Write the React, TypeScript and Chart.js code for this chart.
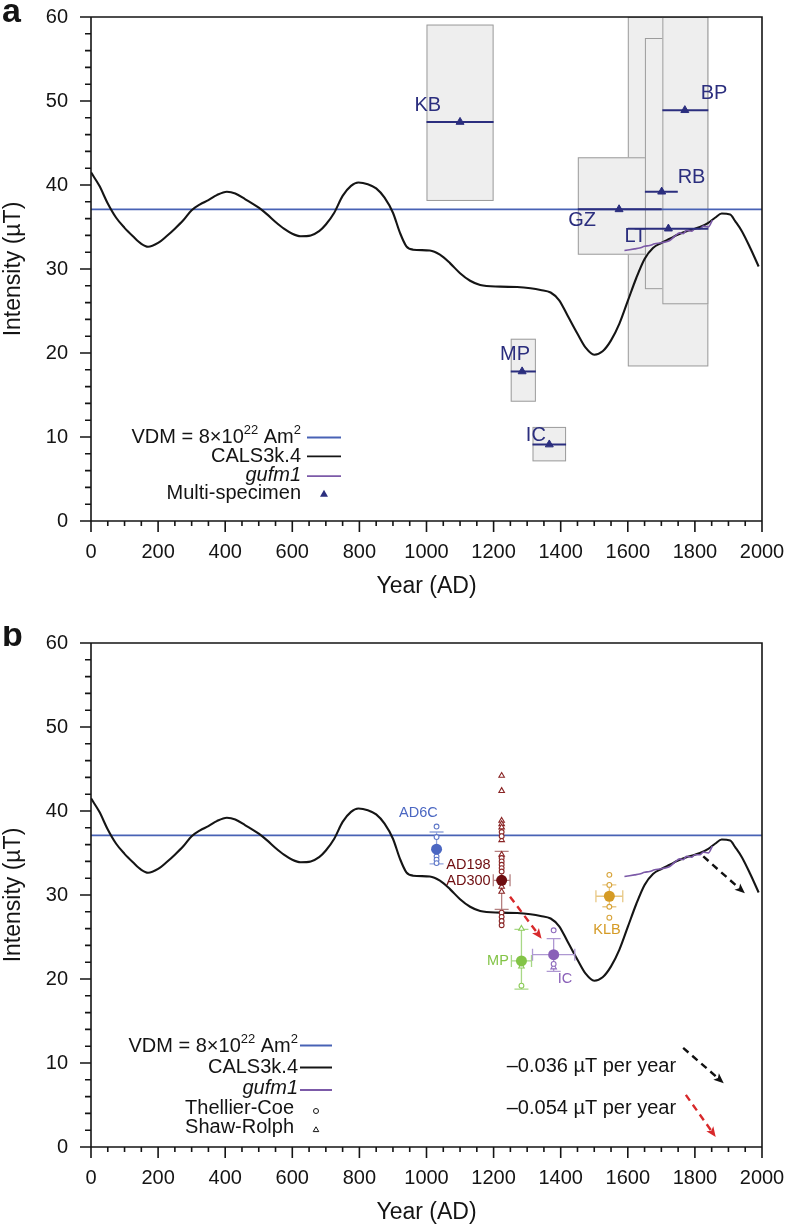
import React, { useEffect, useRef } from "react";
import { Chart, registerables } from "chart.js";

Chart.register(...registerables);

const FONT = "'Liberation Sans', Arial, Helvetica, sans-serif";

// ---------------- axes ----------------
const xTickValues = [0, 200, 400, 600, 800, 1000, 1200, 1400, 1600, 1800, 2000];
const yTickValues = [0, 10, 20, 30, 40, 50, 60];
const xMinorStep = 50;
const yMinorStep = 2;

// ---------------- model curves ----------------
const calsYears = [0, 25, 50, 75, 100, 125, 150, 170, 200, 225, 250, 275, 300, 325, 350, 375, 405, 430, 460, 500, 525, 550, 575, 600, 625, 655, 680, 700, 725, 750, 775, 797, 825, 850, 875, 900, 921, 940, 960, 1010, 1040, 1070, 1100, 1130, 1160, 1220, 1270, 1310, 1340, 1370, 1395, 1420, 1450, 1475, 1500, 1525, 1550, 1575, 1600, 1625, 1650, 1675, 1700, 1725, 1750, 1775, 1800, 1815, 1840, 1860, 1880, 1905, 1920, 1940, 1965, 1990];
const calsValues = [41.5, 39.9, 37.8, 36.1, 34.9, 33.9, 33.0, 32.65, 33.1, 33.9, 34.8, 35.8, 37.0, 37.7, 38.2, 38.8, 39.2, 39.0, 38.3, 37.3, 36.5, 35.6, 34.8, 34.2, 33.9, 34.0, 34.5, 35.3, 36.7, 38.7, 39.9, 40.3, 40.1, 39.6, 38.5, 36.7, 34.3, 32.7, 32.3, 32.2, 31.7, 30.7, 29.5, 28.6, 28.1, 27.9, 27.85, 27.7, 27.5, 27.2, 26.3, 24.5, 22.3, 20.6, 19.8, 20.2, 21.5, 23.5, 26.2, 28.9, 31.2, 32.5, 33.1, 33.6, 34.1, 34.5, 34.8, 35.0, 35.5, 36.1, 36.6, 36.5, 35.7, 34.5, 32.5, 30.3];
const gufmYears = [1590, 1605, 1620, 1635, 1650, 1665, 1680, 1695, 1710, 1725, 1740, 1755, 1765, 1775, 1790, 1800, 1815, 1825, 1840, 1852];
const gufmValues = [32.2, 32.3, 32.4, 32.5, 32.7, 32.8, 33.0, 33.1, 33.2, 33.4, 33.9, 34.3, 34.2, 34.6, 34.5, 34.8, 34.8, 35.1, 35.0, 35.8];
const vdmYears = [0, 2000];
const vdmValues = [37.1, 37.1];

// ---------------- panel a: multi-specimen ----------------
const msNames = ["KB", "BP", "RB", "GZ", "LT", "MP", "IC"];
const msYears = [1100, 1770, 1701, 1574, 1721, 1285, 1366];
const msValues = [47.5, 48.9, 39.2, 37.1, 34.8, 17.8, 9.1];
const msAgeMin = [1000, 1703, 1651, 1451, 1600, 1251, 1316];
const msAgeMax = [1200, 1840, 1749, 1701, 1840, 1326, 1416];
const msIntMin = [38.1, 25.8, 27.6, 31.7, 18.4, 14.2, 7.1];
const msIntMax = [59.1, 60, 57.5, 43.3, 60, 21.7, 11.2];
const msLabelYears = [1004, 1857, 1790, 1464, 1623, 1264, 1326];
const msLabelValues = [49.5, 50.9, 40.85, 35.8, 33.85, 19.8, 10.2];
const msBoxOrder = [0, 5, 6, 4, 3, 2, 1];

// ---------------- panel b: sites ----------------
const siteNames = ["AD6C", "AD198/AD300", "MP", "IC", "KLB"];
const siteYears = [1030, 1224, 1283, 1379, 1545];
const siteMeans = [35.45, 31.75, 22.15, 22.9, 29.85];
const siteAgeErr = [0, 25, 30, 63, 40];
const siteIntLow = [33.7, 28.3, 18.8, 20.9, 28.6];
const siteIntHigh = [37.5, 35.2, 25.9, 24.8, 31.2];
const thellierCoe = [
  [38.15, 36.9, 34.6, 34.2, 33.8],
  [37.5, 37.0, 34.4, 34.0, 33.6, 33.2, 32.8, 27.9, 27.4, 26.9, 26.4],
  [19.2],
  [25.8, 21.8],
  [32.4, 31.2, 28.6, 27.3],
];
const shawRolph = [
  [],
  [44.2, 42.4, 38.85, 38.45, 38.06, 36.55, 34.8, 31.0, 30.4],
  [26.0, 21.5],
  [21.4],
  [],
];
const siteLabelTexts = ["AD6C", "AD198", "AD300", "MP", "IC", "KLB"];
const siteLabelSite = [0, 1, 1, 2, 3, 4];
const siteLabelYears = [976, 1191, 1191, 1213, 1413, 1538];
const siteLabelValues = [39.75, 33.6, 31.65, 22.1, 20.05, 25.8];

// ---------------- panel b: trends ----------------
const trendTexts = ["\u20130.036 \u00b5T per year", "\u20130.054 \u00b5T per year"];
const trendFromYear = [1825, 1249];
const trendFromValue = [34.6, 29.8];
const trendToYear = [1949, 1343];
const trendToValue = [30.2, 24.8];
const trendKeyFromYear = [1765, 1773];
const trendKeyFromValue = [11.8, 6.2];
const trendKeyToYear = [1886, 1862];
const trendKeyToValue = [7.6, 1.2];
const trendTextYear = 1744;
const trendTextValue = [9.64, 4.64];

// ---------------- styles ----------------
const NAVY = "#2b2e7e";
const VDM_BLUE = "#4862b5";
const CALS_BLACK = "#151515";
const GUFM_PURPLE = "#7c5aa8";
const BOX_FILL = "#eeeeee";
const BOX_EDGE = "#9c9c9c";
const TEXT = "#141414";
const siteMeanColors = ["#4b67c2", "#6e0d10", "#83c447", "#8a60b8", "#d59b25"];
const sitePointColors = ["#5f78c8", "#8a2525", "#8ccb58", "#8e6bbd", "#d8a43a"];
const siteBarColors = ["#93a5dc", "#b58080", "#a8d886", "#ae98d2", "#e8c885"];
const siteLabelAlign: CanvasTextAlign[] = ["center", "right", "right", "center", "center", "center"];
const trendColors = ["#111111", "#d8292b"];

const zip = (xs: number[], ys: number[]) => xs.map((x, i) => ({ x, y: ys[i] }));

function font(size: number, extra = "") {
  return `${extra} ${size}px ${FONT}`.trim();
}

function triPath(ctx: CanvasRenderingContext2D, x: number, y: number, r: number) {
  ctx.beginPath();
  ctx.moveTo(x, y - r);
  ctx.lineTo(x + r * 0.866, y + r * 0.5);
  ctx.lineTo(x - r * 0.866, y + r * 0.5);
  ctx.closePath();
}

function drawVdmText(ctx: CanvasRenderingContext2D, right: number, y: number) {
  const parts: [string, number, number][] = [
    ["VDM = 8\u00d710", 20, 0],
    ["22", 13, -7],
    [" Am", 20, 0],
    ["2", 13, -7],
  ];
  let total = 0;
  const widths = parts.map(([t, s]) => {
    ctx.font = font(s);
    const w = ctx.measureText(t).width;
    total += w;
    return w;
  });
  let x = right - total;
  ctx.textAlign = "left";
  ctx.textBaseline = "middle";
  parts.forEach(([t, s, dy], i) => {
    ctx.font = font(s);
    ctx.fillText(t, x, y + dy);
    x += widths[i];
  });
}

function drawArrow(ctx: CanvasRenderingContext2D, x1: number, y1: number, x2: number, y2: number, color: string) {
  const ang = Math.atan2(y2 - y1, x2 - x1);
  const head = 11;
  ctx.save();
  ctx.strokeStyle = color;
  ctx.fillStyle = color;
  ctx.lineWidth = 2.4;
  ctx.setLineDash([7, 5]);
  ctx.beginPath();
  ctx.moveTo(x1, y1);
  ctx.lineTo(x2 - Math.cos(ang) * 6, y2 - Math.sin(ang) * 6);
  ctx.stroke();
  ctx.setLineDash([]);
  ctx.beginPath();
  ctx.moveTo(x2, y2);
  ctx.lineTo(x2 - head * Math.cos(ang - 0.4), y2 - head * Math.sin(ang - 0.4));
  ctx.lineTo(x2 - head * 0.7 * Math.cos(ang), y2 - head * 0.7 * Math.sin(ang));
  ctx.lineTo(x2 - head * Math.cos(ang + 0.4), y2 - head * Math.sin(ang + 0.4));
  ctx.closePath();
  ctx.fill();
  ctx.restore();
}

const framePlugin = {
  id: "frame",
  afterDraw(chart: any) {
    const { ctx } = chart;
    const xs = chart.scales.x;
    const ys = chart.scales.y;
    const l = xs.left, r = xs.right, t = ys.top, b = ys.bottom;
    ctx.save();
    ctx.strokeStyle = TEXT;
    ctx.lineWidth = 1.6;
    ctx.beginPath();
    ctx.moveTo(l - 11, t);
    ctx.lineTo(r, t);
    ctx.lineTo(r, b);
    ctx.moveTo(l - 11, b);
    ctx.lineTo(r, b);
    ctx.moveTo(l, t);
    ctx.lineTo(l, b);
    for (let v = ys.min; v <= ys.max + 1e-9; v += yMinorStep) {
      const y = ys.getPixelForValue(v);
      const len = yTickValues.includes(v) ? 11 : 6;
      ctx.moveTo(l - len, y);
      ctx.lineTo(l, y);
    }
    for (let v = xs.min; v <= xs.max + 1e-9; v += xMinorStep) {
      const x = xs.getPixelForValue(v);
      const len = xTickValues.includes(v) ? 11 : 5;
      ctx.moveTo(x, b);
      ctx.lineTo(x, b + len);
    }
    ctx.stroke();
    ctx.restore();
  },
};

function letterPlugin(letter: string, baseline: number) {
  return {
    id: "letter",
    afterDraw(chart: any) {
      const { ctx } = chart;
      ctx.save();
      ctx.fillStyle = TEXT;
      ctx.font = font(34, "bold");
      ctx.textAlign = "left";
      ctx.textBaseline = "alphabetic";
      ctx.fillText(letter, 2, baseline);
      ctx.restore();
    },
  };
}

function baseOptions() {
  return {
    responsive: false,
    animation: false as const,
    events: [] as any[],
    layout: { padding: { top: 17, right: 26, left: 0, bottom: 0 } },
    plugins: { legend: { display: false }, tooltip: { enabled: false } },
    scales: {
      x: {
        type: "linear" as const,
        min: 0,
        max: 2000,
        grid: { display: false, drawTicks: false },
        border: { display: false },
        afterFit: (s: any) => {
          s.height = 79;
          s.paddingLeft = 0;
          s.paddingRight = 0;
        },
        afterBuildTicks: (s: any) => {
          s.ticks = xTickValues.map((v) => ({ value: v }));
        },
        ticks: {
          autoSkip: false,
          maxRotation: 0,
          minRotation: 0,
          padding: 19.5,
          color: TEXT,
          font: { family: FONT, size: 20 },
          callback: (v: any) => String(v),
        },
        title: { display: true, text: "Year (AD)", color: TEXT, font: { family: FONT, size: 23 }, padding: 0 },
      },
      y: {
        type: "linear" as const,
        min: 0,
        max: 60,
        grid: { display: false, drawTicks: false },
        border: { display: false },
        afterFit: (s: any) => {
          s.width = 91;
          s.paddingTop = 0;
          s.paddingBottom = 0;
        },
        afterBuildTicks: (s: any) => {
          s.ticks = yTickValues.map((v) => ({ value: v }));
        },
        ticks: {
          autoSkip: false,
          padding: 23,
          color: TEXT,
          font: { family: FONT, size: 20 },
          callback: (v: any) => String(v),
        },
        title: { display: true, text: "Intensity (\u00b5T)", color: TEXT, font: { family: FONT, size: 23 }, padding: 0 },
      },
    },
  };
}

function lineDatasets() {
  return [
    {
      label: "gufm1",
      data: zip(gufmYears, gufmValues),
      showLine: true,
      borderColor: GUFM_PURPLE,
      backgroundColor: GUFM_PURPLE,
      borderWidth: 1.6,
      pointRadius: 0,
      fill: false,
      cubicInterpolationMode: "monotone" as const,
    },
    {
      label: "CALS3k.4",
      data: zip(calsYears, calsValues),
      showLine: true,
      borderColor: CALS_BLACK,
      backgroundColor: CALS_BLACK,
      borderWidth: 2.1,
      pointRadius: 0,
      fill: false,
      cubicInterpolationMode: "monotone" as const,
    },
    {
      label: "VDM",
      data: zip(vdmYears, vdmValues),
      showLine: true,
      borderColor: VDM_BLUE,
      backgroundColor: VDM_BLUE,
      borderWidth: 1.6,
      pointRadius: 0,
      fill: false,
    },
  ];
}

// ---------------- panel a ----------------
function configA(): any {
  const boxesPlugin = {
    id: "boxes",
    beforeDatasetsDraw(chart: any) {
      const { ctx, chartArea } = chart;
      const xs = chart.scales.x, ys = chart.scales.y;
      ctx.save();
      ctx.beginPath();
      ctx.rect(chartArea.left, chartArea.top, chartArea.right - chartArea.left, chartArea.bottom - chartArea.top);
      ctx.clip();
      msBoxOrder.forEach((i) => {
        const x1 = xs.getPixelForValue(msAgeMin[i]);
        const x2 = xs.getPixelForValue(msAgeMax[i]);
        const y1 = ys.getPixelForValue(msIntMax[i]);
        const y2 = ys.getPixelForValue(msIntMin[i]);
        ctx.fillStyle = BOX_FILL;
        ctx.fillRect(x1, y1, x2 - x1, y2 - y1);
        ctx.strokeStyle = BOX_EDGE;
        ctx.lineWidth = 1;
        ctx.strokeRect(x1 + 0.5, y1 + 0.5, x2 - x1 - 1, y2 - y1 - 1);
      });
      ctx.restore();
    },
    beforeDatasetDraw(chart: any, args: any) {
      if (args.index !== 0) return;
      const { ctx } = chart;
      const xs = chart.scales.x, ys = chart.scales.y;
      ctx.save();
      ctx.strokeStyle = NAVY;
      ctx.lineWidth = 2;
      msYears.forEach((_, i) => {
        const y = ys.getPixelForValue(msValues[i]);
        ctx.beginPath();
        ctx.moveTo(xs.getPixelForValue(msAgeMin[i]), y);
        ctx.lineTo(xs.getPixelForValue(msAgeMax[i]), y);
        ctx.stroke();
      });
      ctx.restore();
    },
    afterDatasetsDraw(chart: any) {
      const { ctx } = chart;
      const xs = chart.scales.x, ys = chart.scales.y;
      ctx.save();
      ctx.fillStyle = NAVY;
      ctx.font = font(20);
      ctx.textAlign = "center";
      ctx.textBaseline = "middle";
      msNames.forEach((n, i) => {
        ctx.fillText(n, xs.getPixelForValue(msLabelYears[i]), ys.getPixelForValue(msLabelValues[i]));
      });
      ctx.restore();
    },
    afterDraw(chart: any) {
      const { ctx } = chart;
      const right = 301;
      const rows = [437.5, 456.3, 475.1, 493.9];
      ctx.save();
      ctx.fillStyle = TEXT;
      drawVdmText(ctx, right, rows[0]);
      ctx.textAlign = "right";
      ctx.textBaseline = "middle";
      ctx.font = font(20);
      ctx.fillText("CALS3k.4", right, rows[1]);
      ctx.font = font(20, "italic");
      ctx.fillText("gufm1", right, rows[2]);
      ctx.font = font(20);
      ctx.fillText("Multi-specimen", right, rows[3]);
      const lines: [string, number][] = [
        [VDM_BLUE, rows[0]],
        [CALS_BLACK, rows[1]],
        [GUFM_PURPLE, rows[2] + 1],
      ];
      lines.forEach(([c, y]) => {
        ctx.strokeStyle = c;
        ctx.lineWidth = 1.8;
        ctx.beginPath();
        ctx.moveTo(307, y);
        ctx.lineTo(341, y);
        ctx.stroke();
      });
      triPath(ctx, 324, rows[3] + 0.5, 4.6);
      ctx.fillStyle = NAVY;
      ctx.fill();
      ctx.restore();
    },
  };
  return {
    type: "scatter",
    data: {
      datasets: [
        {
          label: "Multi-specimen",
          data: zip(msYears, msValues),
          pointStyle: "triangle",
          pointRadius: 4.6,
          pointBackgroundColor: NAVY,
          pointBorderColor: NAVY,
          pointBorderWidth: 1,
          showLine: false,
        },
        ...lineDatasets(),
      ],
    },
    options: baseOptions(),
    plugins: [boxesPlugin, framePlugin, letterPlugin("a", 21.5)],
  };
}

// ---------------- panel b ----------------
function configB(): any {
  const tcPoints: { x: number; y: number }[] = [];
  const tcColors: string[] = [];
  const srPoints: { x: number; y: number }[] = [];
  const srColors: string[] = [];
  siteYears.forEach((yr, i) => {
    thellierCoe[i].forEach((v) => {
      tcPoints.push({ x: yr, y: v });
      tcColors.push(sitePointColors[i]);
    });
    shawRolph[i].forEach((v) => {
      srPoints.push({ x: yr, y: v });
      srColors.push(sitePointColors[i]);
    });
  });

  const sitePlugin = {
    id: "sites",
    beforeDatasetDraw(chart: any, args: any) {
      if (args.index !== 2) return; // error bars go right before the first point dataset
      const { ctx } = chart;
      const xs = chart.scales.x, ys = chart.scales.y;
      ctx.save();
      ctx.lineWidth = 1.3;
      siteYears.forEach((yr, i) => {
        ctx.strokeStyle = siteBarColors[i];
        const x = xs.getPixelForValue(yr);
        const ym = ys.getPixelForValue(siteMeans[i]);
        const yl = ys.getPixelForValue(siteIntLow[i]);
        const yh = ys.getPixelForValue(siteIntHigh[i]);
        ctx.beginPath();
        ctx.moveTo(x, yl);
        ctx.lineTo(x, yh);
        ctx.moveTo(x - 7, yl);
        ctx.lineTo(x + 7, yl);
        ctx.moveTo(x - 7, yh);
        ctx.lineTo(x + 7, yh);
        if (siteAgeErr[i] > 0) {
          const xl = xs.getPixelForValue(yr - siteAgeErr[i]);
          const xr = xs.getPixelForValue(yr + siteAgeErr[i]);
          ctx.moveTo(xl, ym);
          ctx.lineTo(xr, ym);
          ctx.moveTo(xl, ym - 6);
          ctx.lineTo(xl, ym + 6);
          ctx.moveTo(xr, ym - 6);
          ctx.lineTo(xr, ym + 6);
        }
        ctx.stroke();
      });
      ctx.restore();
    },
    afterDatasetsDraw(chart: any) {
      const { ctx } = chart;
      const xs = chart.scales.x, ys = chart.scales.y;
      ctx.save();
      trendTexts.forEach((_, i) => {
        drawArrow(
          ctx,
          xs.getPixelForValue(trendFromYear[i]),
          ys.getPixelForValue(trendFromValue[i]),
          xs.getPixelForValue(trendToYear[i]),
          ys.getPixelForValue(trendToValue[i]),
          trendColors[i]
        );
        drawArrow(
          ctx,
          xs.getPixelForValue(trendKeyFromYear[i]),
          ys.getPixelForValue(trendKeyFromValue[i]),
          xs.getPixelForValue(trendKeyToYear[i]),
          ys.getPixelForValue(trendKeyToValue[i]),
          trendColors[i]
        );
        ctx.fillStyle = TEXT;
        ctx.font = font(20);
        ctx.textAlign = "right";
        ctx.textBaseline = "middle";
        ctx.fillText(trendTexts[i], xs.getPixelForValue(trendTextYear), ys.getPixelForValue(trendTextValue[i]));
      });
      ctx.font = font(14.5);
      ctx.textBaseline = "middle";
      siteLabelTexts.forEach((t, i) => {
        ctx.fillStyle = siteMeanColors[siteLabelSite[i]];
        ctx.textAlign = siteLabelAlign[i];
        ctx.fillText(t, xs.getPixelForValue(siteLabelYears[i]), ys.getPixelForValue(siteLabelValues[i]));
      });
      ctx.restore();
    },
    afterDraw(chart: any) {
      const { ctx } = chart;
      const rows = [420.5, 441.5, 462, 482.5, 501.5];
      ctx.save();
      ctx.fillStyle = TEXT;
      drawVdmText(ctx, 298, rows[0]);
      ctx.textAlign = "right";
      ctx.textBaseline = "middle";
      ctx.font = font(20);
      ctx.fillText("CALS3k.4", 298, rows[1]);
      ctx.font = font(20, "italic");
      ctx.fillText("gufm1", 298, rows[2]);
      ctx.font = font(20);
      ctx.fillText("Thellier-Coe", 294, rows[3]);
      ctx.fillText("Shaw-Rolph", 294, rows[4]);
      const lines: [string, number][] = [
        [VDM_BLUE, rows[0] - 1],
        [CALS_BLACK, rows[1]],
        [GUFM_PURPLE, rows[2] + 2],
      ];
      lines.forEach(([c, y]) => {
        ctx.strokeStyle = c;
        ctx.lineWidth = 2;
        ctx.beginPath();
        ctx.moveTo(300, y);
        ctx.lineTo(332, y);
        ctx.stroke();
      });
      ctx.strokeStyle = TEXT;
      ctx.lineWidth = 1;
      ctx.beginPath();
      ctx.arc(316, rows[3] + 2.5, 2.5, 0, Math.PI * 2);
      ctx.stroke();
      triPath(ctx, 316, rows[4] + 2.5, 3.2);
      ctx.stroke();
      ctx.restore();
    },
  };

  return {
    type: "scatter",
    data: {
      datasets: [
        {
          label: "Site mean",
          data: zip(siteYears, siteMeans),
          pointStyle: "circle",
          pointRadius: 5.5,
          pointBackgroundColor: siteMeanColors,
          pointBorderColor: siteMeanColors,
          pointBorderWidth: 0,
          showLine: false,
        },
        {
          label: "Thellier-Coe",
          data: tcPoints,
          pointStyle: "circle",
          pointRadius: 2.4,
          pointBackgroundColor: "#ffffff",
          pointBorderColor: tcColors,
          pointBorderWidth: 1.1,
          showLine: false,
        },
        {
          label: "Shaw-Rolph",
          data: srPoints,
          pointStyle: "triangle",
          pointRadius: 3.2,
          pointBackgroundColor: "#ffffff",
          pointBorderColor: srColors,
          pointBorderWidth: 1.1,
          showLine: false,
        },
        ...lineDatasets(),
      ],
    },
    options: baseOptions(),
    plugins: [sitePlugin, framePlugin, letterPlugin("b", 19.5)],
  };
}

export default function App() {
  const refA = useRef<HTMLCanvasElement>(null);
  const refB = useRef<HTMLCanvasElement>(null);
  useEffect(() => {
    const a = new Chart(refA.current as HTMLCanvasElement, configA());
    const b = new Chart(refB.current as HTMLCanvasElement, configB());
    return () => {
      a.destroy();
      b.destroy();
    };
  }, []);
  return (
    <div style={{ position: "absolute", left: 0, top: 0, width: 788, height: 1228, background: "#ffffff", overflow: "hidden" }}>
      <canvas ref={refA} width={788} height={600} style={{ position: "absolute", left: 0, top: 0, width: 788, height: 600 }} />
      <canvas ref={refB} width={788} height={600} style={{ position: "absolute", left: 0, top: 626, width: 788, height: 600 }} />
    </div>
  );
}
